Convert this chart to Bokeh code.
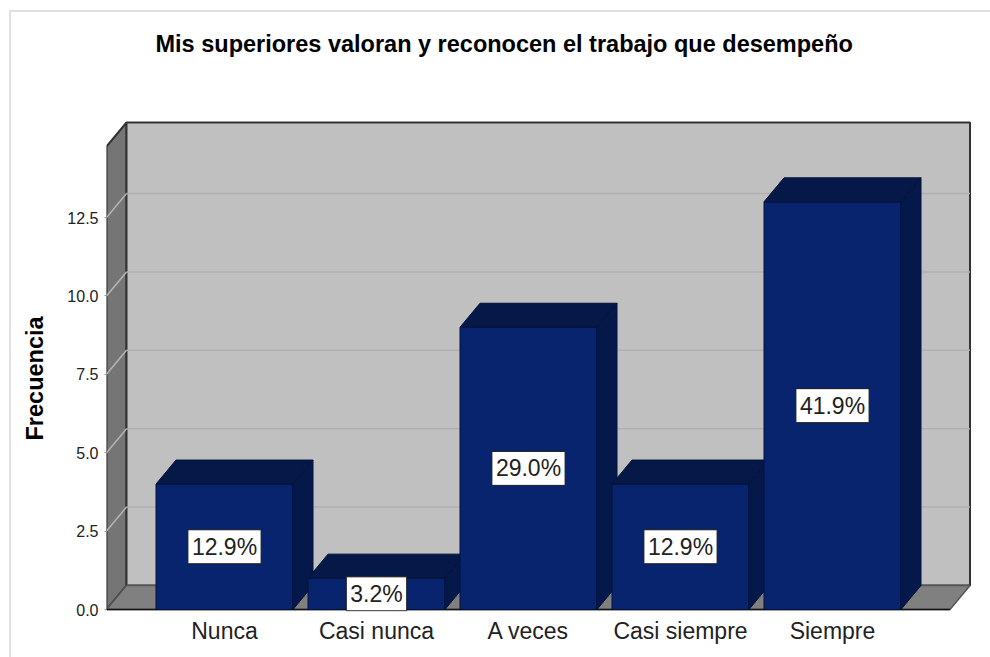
from bokeh.plotting import figure
from bokeh.embed import file_html
from bokeh.resources import INLINE
from bokeh.models import Range1d, FixedTicker, NumeralTickFormatter, ColumnDataSource, Title
from bokeh.core.properties import value

categories = ["Nunca", "Casi nunca", "A veces", "Casi siempre", "Siempre"]
counts = [4, 1, 9, 4, 13]
pct_labels = ["12.9%", "3.2%", "29.0%", "12.9%", "41.9%"]
y_ticks = [0, 2.5, 5, 7.5, 10, 12.5]
title_text = "Mis superiores valoran y reconocen el trabajo que desempeño"
y_title = "Frecuencia"

FONT = "Liberation Sans"
PITCH = 152.0      # px per category
UNIT = 31.36       # px per count
DX = 20 / PITCH    # depth of 3D effect
DY = 24 / UNIT
BAR_W = 137 / PITCH
Y_TOP = (609 - 122) / UNIT
X_L = (106 - 224) / PITCH
X_R = (949.5 - 224) / PITCH

FRAME_L, FRAME_R, FRAME_T, FRAME_B = 106, 975, 118, 611
W, H = 990, 657

def xd(px):
    return (px - 224) / PITCH

def yd(px):
    return (609 - px) / UNIT

p = figure(width=W, height=H, output_backend="svg", toolbar_location=None,
           x_range=Range1d(xd(FRAME_L), xd(FRAME_R)),
           y_range=Range1d(yd(FRAME_B), yd(FRAME_T)),
           frame_width=FRAME_R - FRAME_L, frame_height=FRAME_B - FRAME_T,
           min_border_left=FRAME_L, min_border_right=W - FRAME_R,
           min_border_top=FRAME_T, min_border_bottom=H - FRAME_B)
p.outline_line_color = None
p.grid.visible = False
p.background_fill_color = None
p.border_fill_color = None
p.styles = {
    "background": "linear-gradient(#e0e0e0,#e0e0e0) 10px 10px / 980px 2px no-repeat, "
                  "linear-gradient(#e0e0e0,#e0e0e0) 9px 10px / 2px 647px no-repeat",
}

# walls and floor
WALL_LINE = "#333333"
p.patch([X_L, X_L + DX, X_L + DX, X_L], [0, DY, Y_TOP, Y_TOP - DY],
        fill_color="#757575", line_color=WALL_LINE, line_width=2)
p.patch([X_L + DX, X_R + DX, X_R + DX, X_L + DX], [DY, DY, Y_TOP, Y_TOP],
        fill_color="#c0c0c0", line_color=WALL_LINE, line_width=2)
p.patch([X_L, X_R, X_R + DX, X_L + DX], [0, 0, DY, DY],
        fill_color="#808080", line_color="#555555", line_width=1.5)

# gridlines on back and left wall
for t in y_ticks[1:]:
    p.line([X_L + DX, X_R + DX], [t + DY, t + DY], line_color="#b0b0b0", line_width=1.5)
    p.line([X_L, X_L + DX], [t, t + DY], line_color="#b5b5b5", line_width=1.5)

# floor front edge
p.line([X_L, X_R], [0, 0], line_color="#111111", line_width=1.5)

# bars
EDGE = "#03123a"
for i, c in enumerate(counts):
    l, r = i - BAR_W / 2, i + BAR_W / 2
    p.quad(left=[l], right=[r], bottom=[0], top=[c],
           fill_color="#08246f", line_color=EDGE, line_width=1)
    p.patch([l, r, r + DX, l + DX], [c, c, c + DY, c + DY],
            fill_color="#051848", line_color=EDGE, line_width=1)
    p.patch([r, r + DX, r + DX, r], [0, DY, c + DY, c],
            fill_color="#04184a", line_color=EDGE, line_width=1)

# axes
p.xaxis.ticker = FixedTicker(ticks=list(range(len(categories))))
p.xaxis.major_label_overrides = {i: c for i, c in enumerate(categories)}
p.xaxis.axis_line_color = None
p.xaxis.major_tick_line_color = None
p.xaxis.minor_tick_line_color = None
p.xaxis.major_label_text_font = FONT
p.xaxis.major_label_text_font_size = "23px"
p.xaxis.major_label_text_color = "#222222"
p.xaxis.major_label_standoff = 0

p.yaxis.ticker = FixedTicker(ticks=y_ticks)
p.yaxis.formatter = NumeralTickFormatter(format="0.0")
p.yaxis.axis_line_color = None
p.yaxis.minor_tick_line_color = None
p.yaxis.major_tick_line_color = "#999999"
p.yaxis.major_tick_in = 0
p.yaxis.major_tick_out = 2
p.yaxis.major_label_text_font = FONT
p.yaxis.major_label_text_font_size = "16px"
p.yaxis.major_label_text_color = "#222222"
p.yaxis.major_label_standoff = 6

# y axis title as a side title so it can sit off the frame's centre
p.add_layout(Title(text=y_title, align="left", offset=171, standoff=33, text_font=FONT,
                   text_font_style="bold", text_font_size="23.5px", text_color="black"), "left")

# value labels
src = ColumnDataSource(dict(x=list(range(len(counts))), y=[c / 2 for c in counts], t=pct_labels))
p.text(x="x", y="y", text="t", source=src, text_align="center", text_baseline="middle",
       text_font=value(FONT), text_font_size="23px", text_color="#222222",
       background_fill_color="white", border_line_color="#1a1a1a", border_line_width=1,
       padding=4)

# blank spacer between the title and the plot frame
p.add_layout(Title(text=" ", standoff=49, text_font=FONT, text_font_size="10px"), "above")

# title
p.title.text = title_text
p.title.align = "left"
p.title.offset = 49
p.title.standoff = 0
p.title.text_font = FONT
p.title.text_font_style = "bold"
p.title.text_font_size = "23.5px"
p.title.text_color = "black"

open("out.html", "w").write(file_html(p, INLINE))
